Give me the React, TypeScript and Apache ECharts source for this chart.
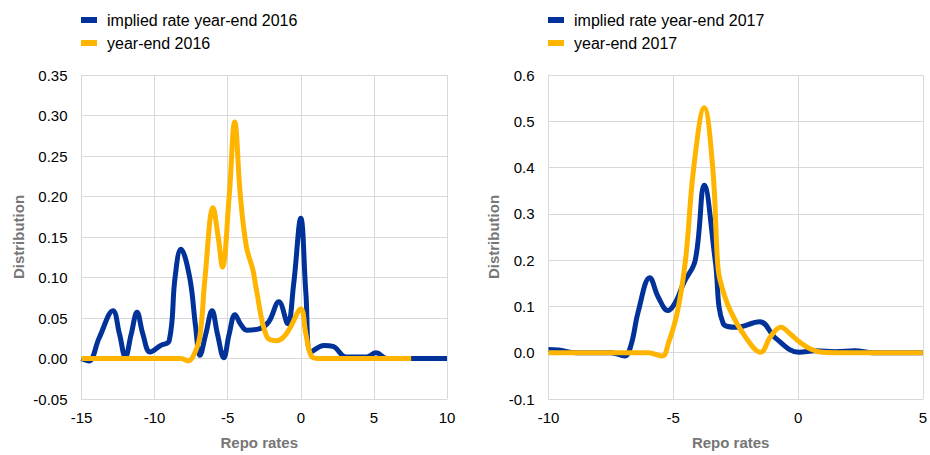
import React, { useEffect, useRef } from "react";
import * as echarts from "echarts";

const BLUE = "#003299";
const ORANGE = "#FFB400";

const seriesNames2016 = ["implied rate year-end 2016", "year-end 2016"];
const seriesNames2017 = ["implied rate year-end 2017", "year-end 2017"];

const implied2016: [number, number][] = [
  [-15, 0], [-14.5, -0.003], [-13.8, 0.025], [-12.85, 0.059], [-12.4, 0.03], [-12.0, 0.002],
  [-11.6, 0.03], [-11.2, 0.057], [-10.8, 0.03], [-10.3, 0.008], [-9.6, 0.016], [-9.0, 0.022],
  [-8.6, 0.1], [-8.2, 0.135], [-7.6, 0.1], [-7.2, 0.04], [-6.9, 0.004], [-6.5, 0.03], [-6.07, 0.059],
  [-5.7, 0.03], [-5.27, 0.001], [-4.9, 0.03], [-4.5, 0.054], [-4.1, 0.042], [-3.7, 0.035],
  [-2.8, 0.037], [-2.2, 0.045], [-1.5, 0.07], [-0.9, 0.043], [-0.5, 0.09], [0, 0.173],
  [0.35, 0.08], [0.7, 0.008], [1.6, 0.016], [2.2, 0.015], [3.1, 0.002], [4.5, 0.002],
  [5.15, 0.007], [5.9, 0], [10, 0],
];

const yearEnd2016: [number, number][] = [
  [-15, 0], [-8.2, 0], [-7.7, -0.003], [-7.3, 0.005], [-6.9, 0.028], [-6.55, 0.1], [-6.0, 0.186],
  [-5.65, 0.15], [-5.36, 0.113], [-4.9, 0.2], [-4.52, 0.292], [-4.13, 0.2], [-3.72, 0.138],
  [-3.27, 0.109], [-3.04, 0.085], [-2.35, 0.028], [-1.67, 0.022], [-1.2, 0.026], [-0.76, 0.037],
  [0, 0.061], [0.35, 0.03], [0.72, 0.003], [1.2, 0], [7.55, 0],
];

const implied2017: [number, number][] = [
  [-10, 0.007], [-9.6, 0.006], [-8.9, 0], [-7.5, 0], [-6.95, -0.007], [-6.69, 0.017], [-6.4, 0.09],
  [-5.94, 0.162], [-5.6, 0.12], [-5.21, 0.091], [-4.9, 0.11], [-4.58, 0.151], [-4.12, 0.2],
  [-3.76, 0.362], [-3.32, 0.2], [-3.0, 0.063], [-2.47, 0.055], [-1.54, 0.067], [-0.89, 0.031],
  [0.04, 0.001], [0.7, 0.004], [1.5, 0.002], [2.28, 0.004], [3, 0], [5, 0],
];

const yearEnd2017: [number, number][] = [
  [-10, 0], [-6, 0], [-5.44, -0.007], [-5.2, 0.02], [-4.84, 0.087], [-4.51, 0.2], [-4.18, 0.4],
  [-3.76, 0.529], [-3.42, 0.4], [-3.23, 0.2], [-3.13, 0.158], [-2.74, 0.094], [-2.07, 0.031],
  [-1.5, 0.001], [-1.1, 0.035], [-0.69, 0.055], [-0.3, 0.04], [0.04, 0.024], [0.5, 0.008],
  [0.96, 0.001], [1.5, 0], [5, 0],
];

const xTitle = "Repo rates";
const yTitle = "Distribution";

const FONT = "Liberation Sans, Arial, sans-serif";

export default function App() {
  const ref = useRef<HTMLDivElement>(null);
  useEffect(() => {
    if (!ref.current) return;
    const chart = echarts.init(ref.current, null, { renderer: "svg" });
    const gridLine = { lineStyle: { color: "#d9d9d9", width: 1 } };
    const label = { color: "#000", fontSize: 15, fontFamily: FONT };
    const nameStyle = { color: "#767676", fontSize: 15, fontWeight: "bold" as const, fontFamily: FONT };
    const xAxisBase = {
      type: "value" as const,
      axisLine: { show: true, onZero: false, lineStyle: { color: "#d9d9d9" } },
      axisTick: { show: false },
      splitLine: { show: true, ...gridLine },
      axisLabel: { ...label, margin: 11 },
      name: xTitle,
      nameLocation: "middle" as const,
      nameGap: 36,
      nameTextStyle: { ...nameStyle, padding: [0, 10, 0, 0] },
    };
    const yAxisBase = {
      type: "value" as const,
      axisLine: { show: true, onZero: false, lineStyle: { color: "#d9d9d9" } },
      axisTick: { show: false },
      splitLine: { show: true, ...gridLine },
      name: yTitle,
      nameLocation: "middle" as const,
      nameRotate: 90,
      nameTextStyle: nameStyle,
    };
    const legendBase = {
      orient: "vertical" as const,
      top: 7,
      itemWidth: 16,
      itemHeight: 6,
      itemGap: 7,
      icon: "rect",
      textStyle: { color: "#000", fontSize: 16, fontFamily: FONT, padding: [0, 0, 0, 5] },
    };
    const lineSeries = (name: string, data: [number, number][], color: string, idx: number) => ({
      type: "line" as const,
      name,
      data,
      xAxisIndex: idx,
      yAxisIndex: idx,
      smooth: 0.4,
      showSymbol: false,
      symbol: "none",
      lineStyle: { color, width: 5 },
      itemStyle: { color },
      z: 3,
    });
    chart.setOption({
      animation: false,
      textStyle: { fontFamily: FONT },
      legend: [
        { ...legendBase, left: 76, data: seriesNames2016 },
        { ...legendBase, left: 543, data: seriesNames2017 },
      ],
      grid: [
        { left: 81.5, top: 75, width: 365.5, height: 330 },
        { left: 548.5, top: 75, width: 378.5, height: 330 },
      ],
      xAxis: [
        { ...xAxisBase, gridIndex: 0, min: -15, max: 10, interval: 5 },
        { ...xAxisBase, gridIndex: 1, min: -10, max: 5, interval: 5 },
      ],
      yAxis: [
        {
          ...yAxisBase,
          gridIndex: 0,
          min: -0.05,
          max: 0.35,
          interval: 0.05,
          nameGap: 56,
          axisLabel: { ...label, margin: 14, formatter: (v: number) => v.toFixed(2) },
        },
        {
          ...yAxisBase,
          gridIndex: 1,
          min: -0.1,
          max: 0.6,
          interval: 0.1,
          nameGap: 48,
          axisLabel: { ...label, margin: 14, formatter: (v: number) => v.toFixed(1) },
        },
      ],
      series: [
        lineSeries(seriesNames2016[0], implied2016, BLUE, 0),
        lineSeries(seriesNames2016[1], yearEnd2016, ORANGE, 0),
        lineSeries(seriesNames2017[0], implied2017, BLUE, 1),
        lineSeries(seriesNames2017[1], yearEnd2017, ORANGE, 1),
      ],
    });
    return () => chart.dispose();
  }, []);
  return (
    <div
      ref={ref}
      style={{ position: "fixed", left: 0, top: 0, width: 930, height: 455, background: "#fff" }}
    />
  );
}
